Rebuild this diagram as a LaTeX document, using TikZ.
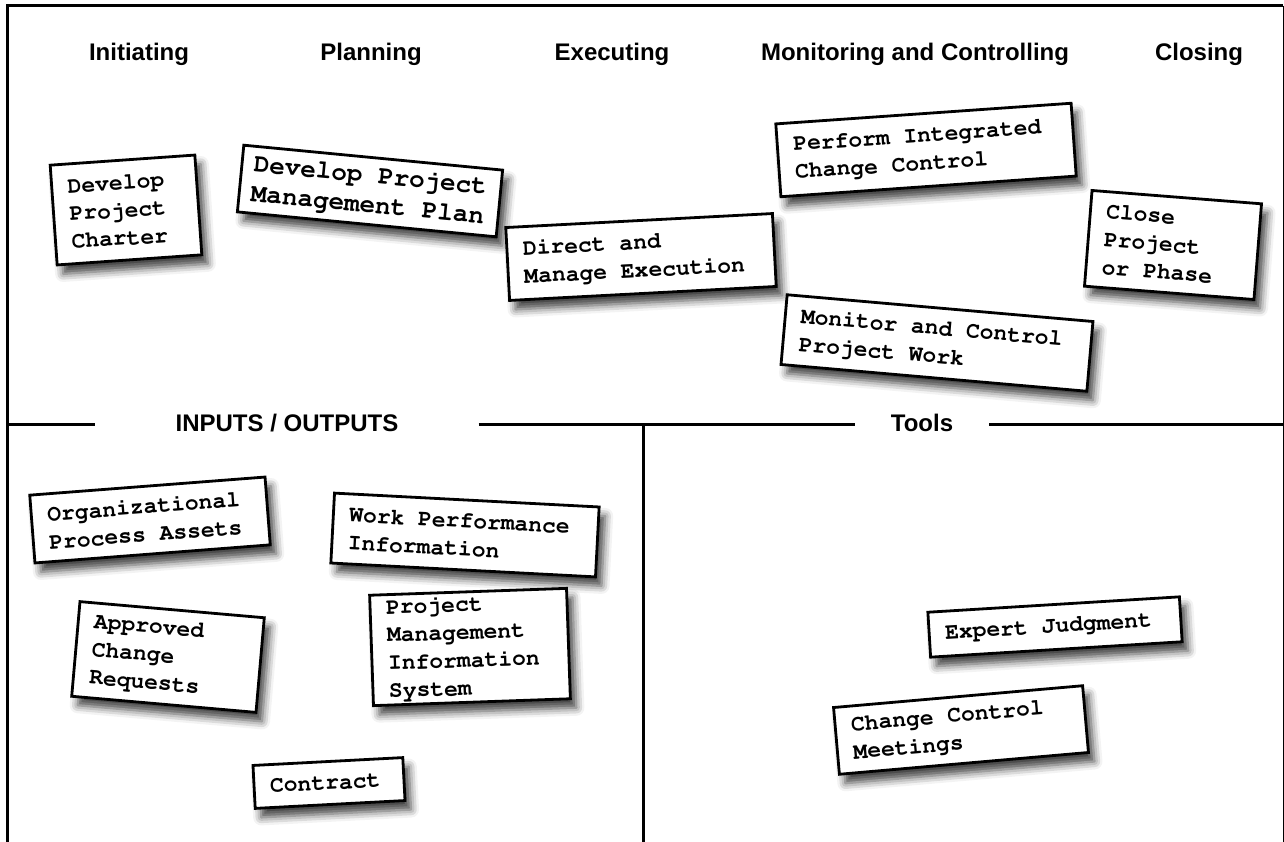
\documentclass[tikz,border=0pt]{standalone}
\usepackage[T1]{fontenc}
\usepackage{fontspec}
\setmainfont{Liberation Sans}
\usetikzlibrary{positioning, shadows.blur}
\newcommand{\cardface}[2]{\fontencoding{T1}\fontfamily{pcr}\fontseries{b}\fontsize{#1}{#2}\selectfont}
\newcommand{\cardgap}{\hspace{.6em}}

\tikzset{
  phase/.style={font=\bfseries\fontsize{24}{28}\selectfont, anchor=base},
  rule/.style={line width=3pt},
  card/.style={draw, line width=2.8pt, fill=white, font=\cardface{23}{28}, align=left,
    inner xsep=16pt, inner ysep=4pt,
    blur shadow={shadow xshift=6pt, shadow yshift=-9pt, shadow blur radius=8pt, shadow opacity=75}},
}

\begin{document}
\begin{tikzpicture}[x=1pt, y=-1pt]
    \useasboundingbox (0,0) rectangle (1284,842);

    % Rahmen
    \draw[rule] (7,842) |- (1283,6);
    \draw[line width=1pt] (1283,6) -- (1283,842);

    % Prozessgruppen
    \node[phase] (init) at (139,61) {Initiating};
    \node[phase] (plan) at (371,61) {Planning};
    \node[phase] (exec) at (612,61) {Executing};
    \node[phase] (moni) at (915,61) {Monitoring and Controlling};
    \node[phase] (clos) at (1199,61) {Closing};

    % Trennlinien
    \node[phase, inner xsep=80pt] (io) at (287,431) {INPUTS / OUTPUTS};
    \node[phase, inner xsep=36pt] (tools) at (922,431) {Tools};
    \coordinate (divL) at (7,424);
    \coordinate (divR) at (1283,424);
    \coordinate (divM) at (643,424);
    \coordinate (divB) at (643,842);
    \draw[rule] (divL) -- (divL -| io.west);
    \draw[rule] (io.east |- divL) -- (tools.west |- divL);
    \draw[rule] (tools.east |- divL) -- (divR);
    \draw[rule] (divM) -- (divB);

    % Prozesse
    \node[card, rotate=4, text width=113pt, minimum height=100pt] (charter) at (126,210) {Develop\\Project\\Charter};
    \node[card, rotate=-5.5, font=\cardface{26}{30}, inner xsep=12pt, text width=236pt, minimum height=67pt] (pmplan) at (370,191) {Develop\cardgap Project\\Management\cardgap Plan};
    \node[card, rotate=3, text width=235pt, minimum height=73pt] (direct) at (641,257) {Direct\cardgap and\\Manage\cardgap Execution};
    \node[card, rotate=4, text width=264pt, minimum height=73pt] (icc) at (926,150) {Perform\cardgap Integrated\\Change\cardgap Control};
    \node[card, rotate=-5, text width=275pt, minimum height=70pt] (mcwork) at (937,343) {Monitor\cardgap and\cardgap Control\\Project\cardgap Work};
    \node[card, rotate=-4.5, text width=138pt, minimum height=96pt] (close) at (1173,245) {Close\\Project\\or\cardgap Phase};

    % Inputs / Outputs
    \node[card, rotate=4.4, text width=204pt, minimum height=68pt] (opa) at (150,520) {Organizational\\Process\cardgap Assets};
    \node[card, rotate=-3, text width=233pt, minimum height=70pt] (wpi) at (465,535) {Work\cardgap Performance\\Information};
    \node[card, rotate=2, text width=165pt, minimum height=110pt] (pmis) at (470,647) {Project\\Management\\Information\\System};
    \node[card, rotate=-5, text width=153pt, minimum height=95pt] (acr) at (168,657) {Approved\\Change\\Requests};
    \node[card, rotate=3, text width=118pt, minimum height=43pt] (contract) at (329,783) {Contract};

    % Tools
    \node[card, rotate=3.5, text width=220pt, minimum height=45pt] (expert) at (1055,627) {Expert\cardgap Judgment};
    \node[card, rotate=5, text width=218pt, minimum height=67pt] (ccm) at (961,730) {Change\cardgap Control\\Meetings};
\end{tikzpicture}
\end{document}
